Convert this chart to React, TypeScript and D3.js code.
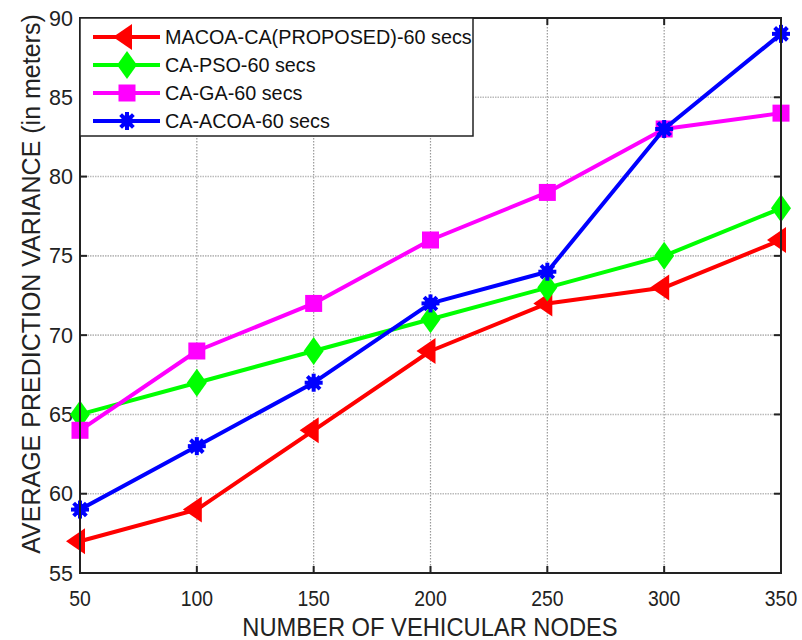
import React from "react";
import * as d3 from "d3";

const nodes = [50, 100, 150, 200, 250, 300, 350];
const macoa = [57, 59, 64, 69, 72, 73, 76];
const pso = [65, 67, 69, 71, 73, 75, 78];
const ga = [64, 69, 72, 76, 79, 83, 84];
const acoa = [59, 63, 67, 72, 74, 83, 89];
const xTicks = [50, 100, 150, 200, 250, 300, 350];
const yTicks = [55, 60, 65, 70, 75, 80, 85, 90];
const seriesNames = [
  "MACOA-CA(PROPOSED)-60 secs",
  "CA-PSO-60 secs",
  "CA-GA-60 secs",
  "CA-ACOA-60 secs",
];

const W = 802;
const H = 640;
const L = 80, R = 781, T = 18, B = 573;
const font = "'Liberation Sans', Arial, sans-serif";

type Marker = "tri" | "diamond" | "square" | "star";
const series: { name: string; values: number[]; color: string; marker: Marker }[] = [
  { name: seriesNames[0], values: macoa, color: "#ff0000", marker: "tri" },
  { name: seriesNames[1], values: pso, color: "#00ff00", marker: "diamond" },
  { name: seriesNames[2], values: ga, color: "#ff00ff", marker: "square" },
  { name: seriesNames[3], values: acoa, color: "#0000ff", marker: "star" },
];

function MarkerShape({ type, x, y, color }: { type: Marker; x: number; y: number; color: string }) {
  if (type === "tri") {
    return <path d={`M${x - 14},${y} L${x + 5},${y - 13} L${x + 5},${y + 13} Z`} fill={color} />;
  }
  if (type === "diamond") {
    return <path d={`M${x},${y - 14} L${x + 10},${y} L${x},${y + 14} L${x - 10},${y} Z`} fill={color} />;
  }
  if (type === "square") {
    return <rect x={x - 8.5} y={y - 8.5} width={17} height={17} fill={color} />;
  }
  const r = 9;
  const angles = [0, 45, 90, 135];
  return (
    <g stroke={color} strokeWidth={4}>
      <circle cx={x} cy={y} r={6} fill={color} stroke="none" />
      {angles.map((a) => {
        const rad = (a * Math.PI) / 180;
        return (
          <line
            key={a}
            x1={x - r * Math.cos(rad)}
            y1={y - r * Math.sin(rad)}
            x2={x + r * Math.cos(rad)}
            y2={y + r * Math.sin(rad)}
          />
        );
      })}
    </g>
  );
}

export default function App() {
  const x = d3.scaleLinear().domain([50, 350]).range([L, R]);
  const y = d3.scaleLinear().domain([55, 90]).range([B, T]);
  const line = d3
    .line<number>()
    .x((_, i) => x(nodes[i]))
    .y((d) => y(d));
  const xc = 430;

  return (
    <svg width={W} height={H} style={{ position: "absolute", left: 0, top: 0, background: "#fff" }}>
      <rect x={0} y={0} width={W} height={H} fill="#fff" />
      {/* grid */}
      {xTicks.slice(1, -1).map((t) => (
        <line key={"gx" + t} x1={x(t)} x2={x(t)} y1={T} y2={B} stroke="#999" strokeWidth={1.2} strokeDasharray="1.5,1.5" />
      ))}
      {yTicks.slice(1, -1).map((t) => (
        <line key={"gy" + t} x1={L} x2={R} y1={y(t)} y2={y(t)} stroke="#bbb" strokeWidth={1.6} strokeDasharray="1.5,1" />
      ))}
      {/* ticks */}
      {xTicks.map((t) => (
        <g key={"tx" + t}>
          <line x1={x(t)} x2={x(t)} y1={B} y2={B - 7} stroke="#222" strokeWidth={2} />
          <line x1={x(t)} x2={x(t)} y1={T} y2={T + 7} stroke="#222" strokeWidth={2} />
          <text
            x={x(t)}
            y={B + 33}
            textAnchor="middle"
            fontFamily={font}
            fontSize={22}
            fill="#222"
            transform={`translate(${x(t)},0) scale(0.88,1) translate(${-x(t)},0)`}
          >
            {t}
          </text>
        </g>
      ))}
      {yTicks.map((t) => (
        <g key={"ty" + t}>
          <line x1={L} x2={L + 7} y1={y(t)} y2={y(t)} stroke="#222" strokeWidth={2} />
          <line x1={R} x2={R - 7} y1={y(t)} y2={y(t)} stroke="#222" strokeWidth={2} />
          <text x={L - 7} y={y(t) + 7.5} textAnchor="end" fontFamily={font} fontSize={21.5} fill="#222">
            {t}
          </text>
        </g>
      ))}
      {/* series */}
      {series.map((s) => (
        <g key={s.name}>
          <path d={line(s.values) || ""} fill="none" stroke={s.color} strokeWidth={4} strokeLinejoin="round" />
          {s.values.map((v, i) => (
            <MarkerShape key={i} type={s.marker} x={x(nodes[i])} y={y(v)} color={s.color} />
          ))}
        </g>
      ))}
      {/* axes box */}
      <rect x={L} y={T} width={R - L} height={B - T} fill="none" stroke="#222" strokeWidth={2} />
      {/* legend */}
      <rect x={L} y={T} width={473 - L} height={136 - T} fill="#fff" stroke="#222" strokeWidth={1.5} />
      {series.map((s, i) => {
        const ly = 37 + i * 28;
        return (
          <g key={"lg" + i}>
            <line x1={93} x2={160} y1={ly} y2={ly} stroke={s.color} strokeWidth={4} />
            <MarkerShape type={s.marker} x={127} y={ly} color={s.color} />
            <text x={165} y={ly + 7} fontFamily={font} fontSize={19.8} fill="#111">
              {s.name}
            </text>
          </g>
        );
      })}
      {/* axis titles */}
      <text
        x={xc}
        y={636}
        textAnchor="middle"
        fontFamily={font}
        fontSize={25.5}
        fill="#222"
        transform={`translate(${xc},0) scale(0.93,1) translate(${-xc},0)`}
      >
        NUMBER OF VEHICULAR NODES
      </text>
      <text
        transform={`translate(40,${284}) rotate(-90)`}
        textAnchor="middle"
        fontFamily={font}
        fontSize={25}
        fill="#222"
      >
        AVERAGE PREDICTION VARIANCE (in meters)
      </text>
    </svg>
  );
}
